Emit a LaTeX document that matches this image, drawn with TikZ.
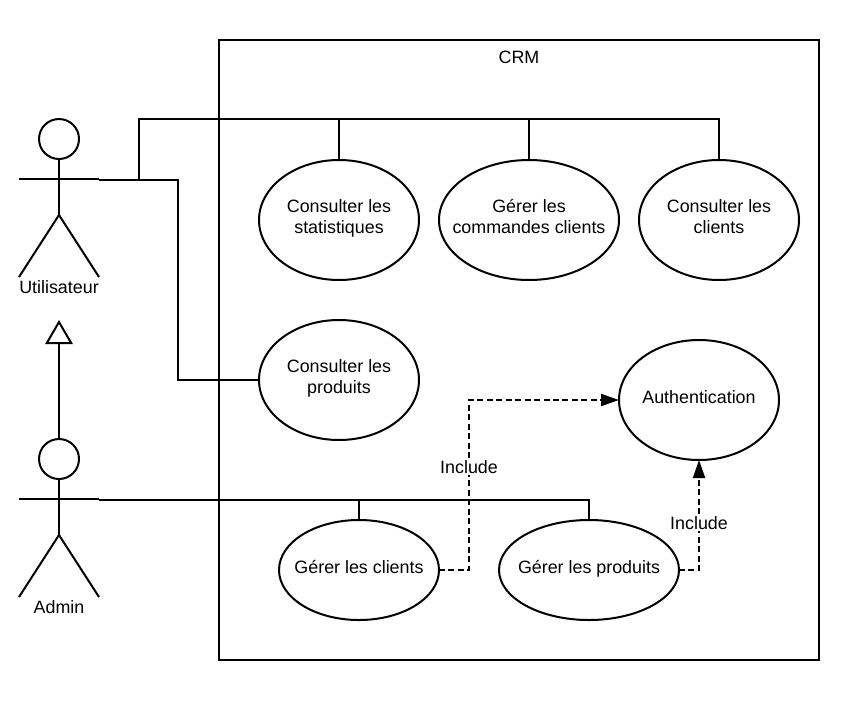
\documentclass[tikz,border=0pt]{standalone}
\usepackage{fontspec}
\setmainfont{Liberation Sans}
\setsansfont{Liberation Sans}
\usetikzlibrary{arrows.meta,calc,shapes.geometric}
\newcommand{\lift}[2]{\makebox[0pt]{\raisebox{#1}[0pt][0pt]{\begin{tabular}{@{}c@{}}#2\end{tabular}}}}
\tikzset{
 x=0.75pt,y=-0.75pt,
 every picture/.style={line width=1.5pt},
 txt/.style={inner sep=0pt,font=\fontsize{13.4}{15.75}\selectfont,align=center},
 uc/.style={txt,draw=black,ellipse,outer sep=0pt},
 sm/.style={uc,minimum width=120pt,minimum height=90pt},
 wd/.style={uc,minimum width=135pt,minimum height=90pt},
 lw/.style={uc,minimum height=75pt},
 lbl/.style={txt,fill=white,inner sep=1pt},
 dep/.style={dash pattern=on 4.5pt off 2.6pt,-{Triangle[length=13.5pt,width=9pt]}},
 gen/.style={-{Triangle[open,length=18pt,width=20.5pt,fill=white]}},
 headc/.style={draw=black,circle,minimum size=30pt,inner sep=0pt,outer sep=0pt},
}
\newcommand{\actor}[3]{%
 \node[headc] (#1head) at (59,#2) {};
 \coordinate (#1hip) at (59,#2+76);
 \coordinate (#1armL) at (19,#2+40);
 \coordinate (#1armR) at (99,#2+40);
 \coordinate (#1end) at (99,#2+41);
 \coordinate (#1legL) at (19,#2+138);
 \coordinate (#1legR) at (99,#2+138);
 \draw (#1head.south) -- (#1hip);
 \draw (#1armL) -- (#1armR);
 \draw (#1legL) -- (#1hip) -- (#1legR);
 \node[txt] (#1label) at (59,#2+148) {#3};
}
\begin{document}
\begin{tikzpicture}
\useasboundingbox (0,0) rectangle (859,700);
\node[draw=black,minimum width=450pt,minimum height=465pt,inner sep=0pt,outer sep=0pt] (sys) at (519,350) {};
\node[txt] (crm) at (519,57) {CRM};
\actor{u}{139}{Utilisateur}
\actor{a}{459}{Admin}
\node[sm] (stat) at (339,220) {\lift{-2.9pt}{Consulter les\\statistiques}};
\node[wd] (cmd) at (529,220) {\lift{-2.9pt}{Gérer les\\commandes clients}};
\node[sm] (cli) at (719,220) {\lift{-2.9pt}{Consulter les\\clients}};
\node[sm] (prod) at (339,380) {\lift{-2.9pt}{Consulter les\\produits}};
\node[sm] (auth) at (699,400) {\lift{-2.9pt}{Authentication}};
\node[lw,minimum width=120pt] (gc) at (359,570) {\lift{-3.4pt}{Gérer les clients}};
\node[lw,minimum width=135pt] (gp) at (589,570) {\lift{-3.4pt}{Gérer les produits}};
\coordinate (uj) at (139,180);
\coordinate (ut) at (139,119);
\coordinate (ub) at (178,180);
\coordinate (ul) at (178,380);
\draw (uend) -- (uj) -- (ub) -- (ul) -- (prod.west);
\draw (uj) -- (ut) -- (cli.north |- ut) -- (cli.north);
\draw (stat.north |- ut) -- (stat.north);
\draw (cmd.north |- ut) -- (cmd.north);
\coordinate (at) at (589,500);
\draw (aend) -- (at) -- (gp.north);
\draw (gc.north |- at) -- (gc.north);
\coordinate (d1a) at (469,570);
\coordinate (d1b) at (469,400);
\coordinate (d2a) at (699,570);
\draw[dep] (gc.east) -- (d1a) -- (d1b) -- (auth.west);
\draw[dep] (gp.east) -- (d2a) -- (auth.south);
\coordinate (tip) at (59,320);
\draw[gen] (ahead.north) -- (tip);
\node[lbl] (inc1) at (469,467) {Include};
\node[lbl] (inc2) at (699,523) {Include};
\end{tikzpicture}
\end{document}
